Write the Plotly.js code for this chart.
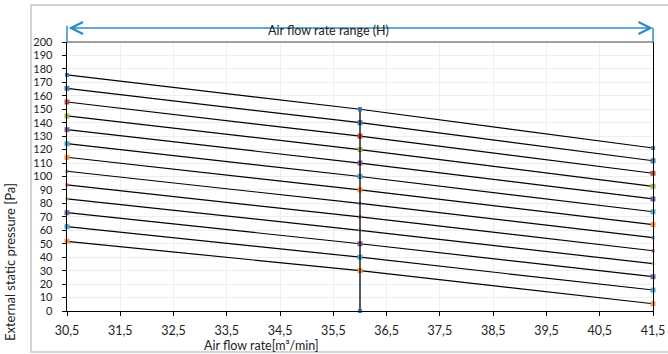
<!DOCTYPE html>
<html><head><meta charset="utf-8">
<script src="https://cdn.plot.ly/plotly-3.0.1.min.js"></script>
<style>html,body{margin:0;padding:0;background:#fff}#chart{width:668px;height:354px}</style>
</head><body><div id="chart"></div>
<script>
const xPoints = [30.5, 36, 41.5];
const leftValues  = [175.5, 165.5, 155.4, 145, 134.8, 124.4, 114.3, 103.9, 93.7, 83.3, 73.1, 62.7, 51.8];
const midValues   = [150, 140, 130, 120, 110, 100, 90, 80, 70, 60, 50, 40, 30];
const rightValues = [121.2, 111.7, 102.4, 92.7, 83.3, 73.8, 64.2, 54.5, 44.8, 35.2, 25.5, 15.6, 5.4];
const seriesColors = ['#3A8DB5','#4F81BD','#C0504D','#9BBB59','#8064A2','#4BACC6','#F79646','#4F81BD','#C0504D','#9BBB59','#8064A2','#4BACC6','#F79646'];
const markerSizes = [4,5,5,5,5,5,5,3,3,3,5,5,5];
const dividerX = [36, 36];
const dividerY = [0, 150];
const rangeX = [30.5, 41.5];
const rangeLabelX = 35.4;
const rangeLabel = 'Air flow rate range (H)';
const xTickVals = [30.5, 31.5, 32.5, 33.5, 34.5, 35.5, 36.5, 37.5, 38.5, 39.5, 40.5, 41.5];
const xTickText = ['30,5','31,5','32,5','33,5','34,5','35,5','36,5','37,5','38,5','39,5','40,5','41,5'];
const yTickVals = [0,10,20,30,40,50,60,70,80,90,100,110,120,130,140,150,160,170,180,190,200];
const xTitle = 'Air flow rate[m³/min]';
const yTitle = 'External static pressure [Pa]';

const FONT = 'Lato, "Noto Sans", sans-serif';
const traces = [];
for (let i = 0; i < leftValues.length; i++) {
  traces.push({
    x: xPoints,
    y: [leftValues[i], midValues[i], rightValues[i]],
    mode: 'lines+markers',
    line: {color: '#000', width: 1.2},
    marker: {color: seriesColors[i], size: markerSizes[i], symbol: 'square'},
    cliponaxis: false,
    hoverinfo: 'skip'
  });
}
traces.push({
  x: dividerX, y: dividerY, mode: 'lines+markers',
  line: {color: '#000', width: 1.3},
  marker: {color: '#2E75B6', size: 4, symbol: 'square'},
  cliponaxis: false, hoverinfo: 'skip'
});

const layout = {
  width: 668, height: 354,
  margin: {l: 67, r: 15, t: 42, b: 43},
  paper_bgcolor: '#fff', plot_bgcolor: '#fff',
  showlegend: false,
  font: {family: FONT, size: 12, color: '#222'},
  xaxis: {
    range: rangeX, tickvals: xTickVals, ticktext: xTickText,
    showgrid: true, gridcolor: '#eeeeee', gridwidth: 1,
    zeroline: false, showline: true, linecolor: '#000', linewidth: 1.3,
    ticks: 'outside', ticklen: 4, tickcolor: '#000', ticklabelstandoff: 4,
    tickfont: {family: FONT, size: 12.5, color: '#222'}
  },
  yaxis: {
    range: [0, 200], tickvals: yTickVals,
    showgrid: true, gridcolor: '#eeeeee', gridwidth: 1,
    zeroline: false, showline: true, mirror: true, linecolor: '#000', linewidth: 1.3,
    ticks: 'outside', ticklen: 4, tickcolor: '#000', ticklabelstandoff: 7,
    tickfont: {family: FONT, size: 11, color: '#222'}
  },
  shapes: [
    {type: 'line', xref: 'paper', yref: 'paper', x0: 0, x1: 1, y0: 1, y1: 1, line: {color: '#7f7f7f', width: 1.5}},
    {type: 'line', xref: 'paper', yref: 'paper', x0: 0, x1: 0, y0: 1, y1: 1.06, line: {color: '#2E8BCB', width: 1.5}},
    {type: 'line', xref: 'paper', yref: 'paper', x0: 1, x1: 1, y0: 1, y1: 1.052, line: {color: '#2E8BCB', width: 1.5}},
    {type: 'rect', xref: 'paper', yref: 'paper', x0: -0.0614, x1: 1.05, y0: -0.1524, y1: 1.1375, line: {color: '#c6c6c6', width: 1.5}, fillcolor: 'rgba(0,0,0,0)', layer: 'below'}
  ],
  annotations: [
    {x: rangeX[1], y: 1.052, ax: rangeX[0], ay: 0, xref: 'x', yref: 'paper', axref: 'x', ayref: 'pixel',
     text: '', showarrow: true, arrowside: 'end+start', arrowhead: 5, arrowsize: 1.8, arrowwidth: 1.3, arrowcolor: '#2E8BCB', standoff: 0, startstandoff: 0},
    {x: rangeLabelX, y: 1.041, xref: 'x', yref: 'paper', text: rangeLabel, showarrow: false,
     font: {family: FONT, size: 12.5, color: '#222'}, xanchor: 'center', yanchor: 'middle'},
    {x: 34.15, y: -0.13, xref: 'x', yref: 'paper', text: xTitle, showarrow: false,
     font: {family: FONT, size: 12.5, color: '#222'}, xanchor: 'center', yanchor: 'middle'},
    {x: -0.0973, y: 0.182, xref: 'paper', yref: 'paper', text: yTitle, showarrow: false, textangle: -90,
     font: {family: FONT, size: 13, color: '#222'}, xanchor: 'center', yanchor: 'middle'}
  ]
};
Plotly.newPlot('chart', traces, layout, {staticPlot: true, displayModeBar: false});
</script></body></html>
